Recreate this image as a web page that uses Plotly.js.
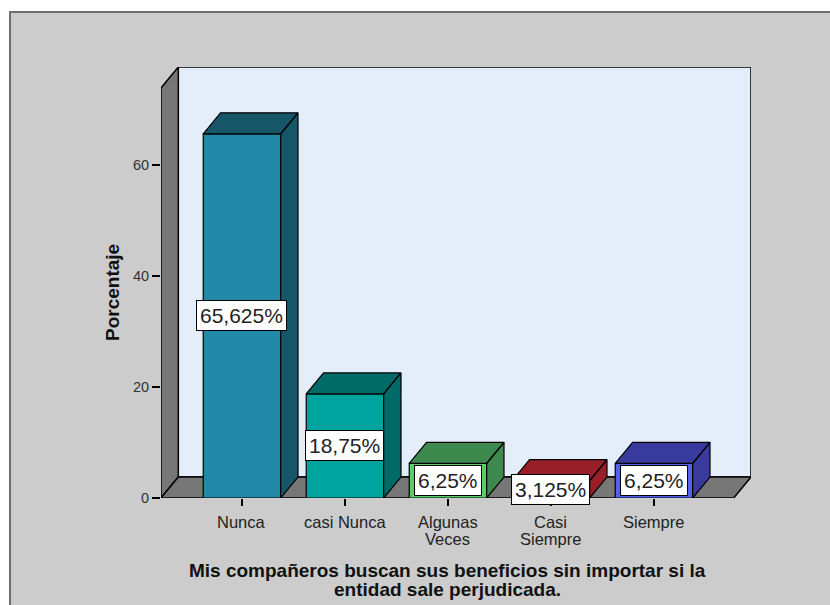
<!DOCTYPE html>
<html>
<head>
<meta charset="utf-8">
<script src="https://cdn.plot.ly/plotly-3.0.1.min.js"></script>
<style>
  html, body { margin: 0; padding: 0; background: #ffffff; }
  #panel { position: absolute; left: 9px; top: 11px; width: 830px; height: 600px;
           background: #cccccc; border-left: 2px solid #6e6e6e; border-top: 2px solid #6e6e6e; }
  #chart { position: absolute; left: 0; top: 0; width: 830px; height: 605px; }
</style>
</head>
<body>
<div id="panel"></div>
<div id="chart"></div>
<script>
// ---- data ----
const categories = ['Nunca', 'casi Nunca', 'Algunas Veces', 'Casi Siempre', 'Siempre'];
const categoryLines = [['Nunca'], ['casi Nunca'], ['Algunas', 'Veces'], ['Casi', 'Siempre'], ['Siempre']];
const values = [65.625, 18.75, 6.25, 3.125, 6.25];
const valueLabels = ['65,625%', '18,75%', '6,25%', '3,125%', '6,25%'];
const yTicks = [0, 20, 40, 60];
const yTickText = ['0', '20', '40', '60'];
const xTitleLines = ['Mis compañeros buscan sus beneficios sin importar si la', 'entidad sale perjudicada.'];
const yTitle = 'Porcentaje';

// ---- style ----
const frontColors = ['#2389a9', '#00a49e', '#5ccb6a', '#c8282e', '#5560ee'];
const darkColors  = ['#175668', '#006a66', '#3e8a4e', '#981f28', '#393a9e'];
const barHalf = 0.376;
const dX = 0.168;      // depth offset in x units
const dY = 3.78;       // depth offset in y units
const xMin = -0.786, xMax = 4.942, yMax = 77.66;
const wallFrontTop = yMax - dY;
const font = 'Liberation Sans, Arial, sans-serif';

const xs = categories.map((c, i) => i);

// front faces: real bars
const traces = [{
  type: 'bar', x: xs, y: values, width: barHalf * 2,
  marker: { color: frontColors, line: { color: '#000', width: 1.2 } },
  hoverinfo: 'skip', showlegend: false
}];

// top + side faces computed from each value
values.forEach((v, i) => {
  const l = i - barHalf, r = i + barHalf;
  traces.push({
    type: 'scatter', mode: 'lines', fill: 'toself', fillcolor: darkColors[i],
    line: { color: '#000', width: 1.2 }, hoverinfo: 'skip', showlegend: false,
    x: [l, r, r + dX, l + dX, l, null, r, r + dX, r + dX, r, r],
    y: [v, v, v + dY, v + dY, v, null, 0, dY, v + dY, v, 0]
  });
});

const shapes = [
  { type: 'rect', xref: 'x', yref: 'y', layer: 'below', x0: xMin + dX, x1: xMax, y0: dY, y1: yMax,
    fillcolor: '#e3eefa', line: { color: '#000', width: 1.5 } },
  { type: 'path', xref: 'x', yref: 'y', layer: 'below',
    path: `M${xMin},0 L${xMin},${wallFrontTop} L${xMin + dX},${yMax} L${xMin + dX},${dY} Z`,
    fillcolor: '#777777', line: { color: '#000', width: 1.5 } },
  { type: 'path', xref: 'x', yref: 'y', layer: 'below',
    path: `M${xMin},0 L${xMax - dX},0 L${xMax},${dY} L${xMin + dX},${dY} Z`,
    fillcolor: '#777777', line: { color: '#000', width: 1.5 } }
];

const annotations = [];
values.forEach((v, i) => {
  annotations.push({
    x: i, y: v / 2, xref: 'x', yref: 'y', text: valueLabels[i], showarrow: false,
    font: { family: font, size: 21, color: '#222' },
    bgcolor: '#ffffff', bordercolor: '#000', borderwidth: 1, borderpad: 3,
    xanchor: 'center', yanchor: 'middle'
  });
  categoryLines[i].forEach((line, k) => {
    annotations.push({
      x: i, y: 0, xref: 'x', yref: 'paper', text: line, showarrow: false,
      font: { family: font, size: 16.5, color: '#222' },
      xanchor: 'center', yanchor: 'middle', yshift: -23.5 - 17.5 * k
    });
  });
});
xTitleLines.forEach((line, k) => {
  annotations.push({
    x: (447.5 - 161) / 590, y: 0, xref: 'paper', yref: 'paper', text: line, showarrow: false,
    font: { family: font, size: 19, color: '#111', weight: 'bold' },
    xanchor: 'center', yanchor: 'middle', yshift: -72.5 - 19 * k
  });
});
annotations.push({
  x: (112 - 161) / 590, y: (498 - 293) / 431, xref: 'paper', yref: 'paper', text: yTitle,
  showarrow: false, textangle: -90,
  font: { family: font, size: 19, color: '#111', weight: 'bold' },
  xanchor: 'center', yanchor: 'middle'
});

const layout = {
  width: 830, height: 605,
  margin: { l: 161, r: 79, t: 67, b: 107 },
  paper_bgcolor: 'rgba(0,0,0,0)', plot_bgcolor: 'rgba(0,0,0,0)',
  showlegend: false, hovermode: false,
  xaxis: {
    range: [xMin, xMax], tickmode: 'array', tickvals: xs, showticklabels: false,
    ticks: 'outside', ticklen: 7, tickwidth: 1.3, tickcolor: '#000',
    showgrid: false, zeroline: false, showline: false, fixedrange: true
  },
  yaxis: {
    range: [0, yMax], tickmode: 'array', tickvals: yTicks, ticktext: yTickText,
    ticks: 'outside', ticklen: 8, tickwidth: 1.3, tickcolor: '#000',
    tickfont: { family: font, size: 14.5, color: '#333' },
    showgrid: false, zeroline: false, showline: false, fixedrange: true
  },
  shapes: shapes,
  annotations: annotations
};

Plotly.newPlot('chart', traces, layout, { staticPlot: true, displayModeBar: false });
</script>
</body>
</html>
